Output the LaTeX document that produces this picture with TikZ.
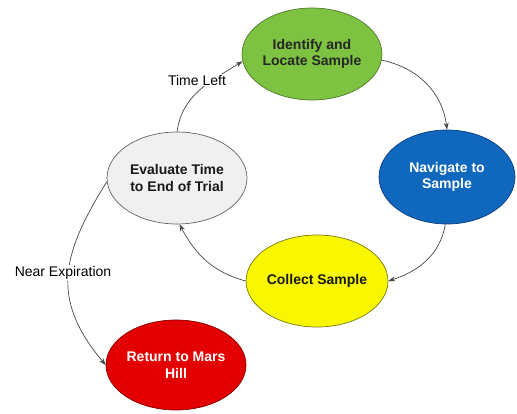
\documentclass[tikz,border=0pt]{standalone}
\usepackage{fontspec}
\setmainfont{Liberation Sans}
\usetikzlibrary{shapes.geometric,arrows.meta}
\definecolor{cgreen}{RGB}{126,194,66}
\definecolor{cgreenb}{RGB}{80,120,40}
\definecolor{cblue}{RGB}{16,104,190}
\definecolor{cblueb}{RGB}{10,60,120}
\definecolor{cyellow}{RGB}{248,246,0}
\definecolor{cyellowb}{RGB}{120,120,20}
\definecolor{cred}{RGB}{226,0,0}
\definecolor{credb}{RGB}{130,0,0}
\definecolor{cgrey}{RGB}{240,240,240}
\definecolor{cgreyb}{RGB}{100,100,100}
\definecolor{cline}{RGB}{70,70,70}
\tikzset{
  stage/.style={ellipse, minimum width=140pt, minimum height=92pt, inner sep=0pt,
    align=center, font=\fontsize{14}{16.5}\selectfont\bfseries, line width=0.7pt},
  conn/.style={draw=cline, line width=0.7pt, -{Stealth[length=7pt,width=5pt]}},
  lbl/.style={font=\fontsize{14}{16.5}\selectfont, fill=white, inner sep=1pt}
}
\begin{document}
\begin{tikzpicture}[x=1pt,y=-1pt]
\useasboundingbox (0,0) rectangle (517,413);
\node[stage, fill=cgreen, draw=cgreenb, text=black!85] (id) at (312,54) {Identify and\\Locate Sample};
\node[stage, fill=cblue, draw=cblueb, text=white, minimum width=136pt, minimum height=94pt] (nav) at (447,177) {Navigate to\\Sample};
\node[stage, fill=cyellow, draw=cyellowb, text=black!90] (col) at (317,281) {Collect Sample};
\node[stage, fill=cgrey, draw=cgreyb, text=black!90] (ev) at (177,178) {Evaluate Time\\to End of Trial};
\node[stage, fill=cred, draw=credb, text=white, minimum height=90pt] (ret) at (176,365) {Return to Mars\\Hill};

\draw[conn] (ev.north) to[out=82,in=212] (id.186);
\draw[conn] (id.355) to[out=-12,in=97] (nav.north);
\draw[conn] (nav.268) to[out=-100,in=18] (col.east);
\draw[conn] (col.west) to[out=165,in=-62] (ev.273);
\draw[conn] (ev.183) to[out=238,in=130,looseness=1.2] (ret.west);

\node[lbl] (tl) at (197,80) {Time Left};
\node[lbl] (ne) at (63,273) {Near Expiration};
\end{tikzpicture}
\end{document}
